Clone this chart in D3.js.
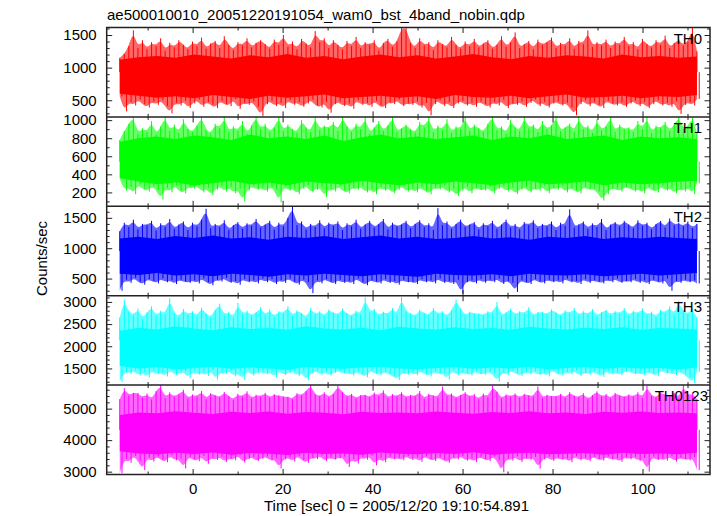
<!DOCTYPE html>
<html><head><meta charset="utf-8">
<script src="https://cdn.jsdelivr.net/npm/d3@7"></script>
<style>
html,body{margin:0;padding:0;background:#fff;}
text{font-family:"Liberation Sans",Arial,Helvetica,sans-serif;fill:#000;}
</style></head><body>
<svg id="chart" width="717" height="516"></svg>
<script>
// ---------- data ----------
const title = "ae500010010_20051220191054_wam0_bst_4band_nobin.qdp";
const xLabel = "Time [sec] 0 = 2005/12/20 19:10:54.891";
const yLabel = "Counts/sec";
const bands = ["TH0", "TH1", "TH2", "TH3", "TH0123"];
const colors = ["#ff0000", "#00ff00", "#0000ff", "#00ffff", "#ff00ff"];
const timeSpan = [-16.2, 112.1];          // first / last bin time (s)
const xDomain = [-19.1, 115];
const xMajorTicks = [0, 20, 40, 60, 80, 100];
const xMinorTicks = [-10, 10, 30, 50, 70, 90, 110];
const yDomains = [[245, 1615], [46, 1036], [218, 1690], [1124, 3140], [2910, 5747]];
const yMajorTicks = [[500, 1000, 1500], [200, 400, 600, 800, 1000], [500, 1000, 1500], [1500, 2000, 2500, 3000], [3000, 4000, 5000]];
const yMinorStep = [100, 100, 100, 100, 200];

// per 1-s bin maximum / minimum count rates (counts/sec)
const th0Hi = [
1150,1210,1330,1570,1300,1420,1280,1390,1330,1450,1260,1380,1310,1420,1350,1280,
1400,1330,1460,1290,1370,1410,1300,1480,1350,1270,1390,1340,1450,1310,1380,1420,
1360,1290,1430,1350,1500,1320,1400,1280,1440,1370,1310,1560,1390,1450,1300,1420,
1350,1280,1410,1330,1470,1300,1390,1350,1420,1260,1380,1440,1320,1400,1615,1610,
1380,1300,1450,1340,1390,1270,1420,1360,1310,1470,1350,1290,1400,1330,1440,1310,
1370,1420,1290,1350,1480,1320,1390,1540,1300,1360,1410,1280,1430,1350,1390,1460,
1300,1380,1340,1450,1290,1410,1360,1570,1320,1390,1340,1430,1300,1400,1350,1470,
1330,1390,1280,1440,1360,1310,1420,1350,1490,1300,1380,1430,1340,1400,1615,1250];
const th0Lo = [
560,330,470,420,510,440,390,480,430,500,410,300,460,420,490,380,
450,510,400,470,430,380,490,440,410,520,370,460,430,480,400,260,
440,490,410,460,380,500,430,470,400,450,510,420,390,470,310,440,
480,410,450,370,500,430,460,400,490,420,380,470,440,510,410,450,
430,480,390,460,270,440,500,410,470,380,450,490,420,460,400,480,
440,390,470,420,500,380,450,430,480,400,460,510,410,470,390,450,
480,420,460,390,270,440,500,410,470,430,380,490,450,420,470,400,
450,490,410,470,380,440,500,420,460,400,480,290,430,470,420,520];
const th1Hi = [
780,880,960,1040,850,910,870,990,840,930,1040,880,950,860,1010,900,
870,940,1040,890,850,960,910,1040,870,930,880,990,850,940,1040,900,
960,870,920,1040,880,950,900,860,1000,920,870,1040,890,940,910,980,
880,1040,930,870,960,900,1040,850,920,990,880,940,1040,870,910,950,
900,860,980,920,1040,870,940,890,1010,860,930,900,1040,880,950,910,
870,960,1040,890,930,850,1000,920,880,1040,910,950,870,990,900,940,
1040,880,920,960,870,1040,900,940,860,1010,890,930,1040,870,950,900,
920,870,990,900,1040,860,940,910,980,880,950,1040,900,930,1040,860];
const th1Lo = [
350,220,260,180,290,240,210,270,230,120,250,200,280,220,190,260,
240,280,200,250,170,230,270,210,260,190,240,100,220,270,230,250,
210,260,230,90,270,220,250,180,240,280,200,230,260,150,240,210,
270,220,190,250,230,270,200,240,180,260,220,250,190,230,270,210,
240,200,260,220,180,250,230,270,200,240,160,220,260,190,250,230,
220,260,190,240,270,210,250,180,230,260,200,240,220,270,190,250,
230,270,200,250,220,190,260,230,240,210,110,180,240,240,210,260,
250,210,240,190,260,230,200,270,220,250,190,240,210,260,180,300];
const th2Hi = [
1280,1420,1350,1470,1310,1400,1380,1450,1290,1410,1350,1480,1320,1390,1440,1300,
1420,1360,1470,1650,1330,1400,1350,1460,1300,1380,1430,1320,1410,1370,1480,1340,
1390,1450,1310,1420,1360,1500,1690,1380,1440,1310,1400,1350,1460,1330,1420,1370,
1440,1300,1410,1360,1470,1320,1390,1450,1340,1400,1480,1310,1420,1360,1390,1450,
1330,1400,1460,1350,1410,1300,1660,1380,1440,1320,1400,1470,1350,1390,1430,1310,
1410,1360,1450,1320,1390,1470,1340,1400,1310,1430,1380,1460,1330,1400,1360,1440,
1300,1420,1370,1640,1340,1390,1440,1320,1410,1350,1480,1300,1390,1430,1360,1450,
1390,1330,1460,1370,1420,1310,1400,1450,1340,1490,1380,1420,1360,1440,1330,1400];
const th2Lo = [
300,480,430,510,450,400,490,460,420,500,440,470,410,480,450,430,
470,420,500,440,390,480,450,510,430,460,400,490,440,470,420,500,
440,490,410,470,430,500,450,400,480,440,260,470,420,490,450,410,
480,430,460,410,500,440,390,470,450,420,490,430,460,400,480,440,
450,410,490,440,470,420,500,430,460,410,480,250,440,470,420,490,
430,480,440,500,410,460,430,280,470,440,410,490,450,420,480,440,
470,420,500,440,460,410,490,430,470,450,420,480,440,500,430,460,
440,490,430,470,410,480,450,420,500,300,460,430,480,440,470,420];
const th3Hi = [
2650,3050,2780,2700,2850,2620,2760,2900,2680,2800,2720,3080,2750,2660,2840,2710,
2790,2680,2870,2740,2650,2820,2960,2700,2780,2640,2980,2720,2800,2690,2760,2880,
2700,2830,2660,2790,2740,2900,2680,2810,2750,2640,2860,2720,2790,2680,2830,2760,
2710,2850,2740,2680,2800,2720,3100,2760,2840,2690,2780,2720,2860,2700,3110,2780,
2740,2680,2820,2750,2700,2860,2730,2790,2670,2810,3050,2850,2690,2780,2740,2740,
2700,2790,2740,3000,2680,2760,2850,2710,2790,2740,2880,2690,2770,2770,2720,2830,
2760,2690,2810,2740,2860,2700,2790,2720,2840,2680,2770,2820,2710,2790,2740,2860,
2690,2800,2740,2850,2710,2780,2660,2820,2750,2900,2700,3020,2790,2730,2840,2650];
const th3Lo = [
1200,1420,1380,1460,1340,1410,1300,1450,1370,1400,1320,1470,1350,1390,1430,1280,
1440,1360,1410,1330,1470,1250,1400,1380,1450,1320,1410,1240,1470,1340,1400,1430,
1370,1420,1300,1460,1350,1400,1440,1330,1410,1230,1380,1450,1360,1420,1340,1400,
1450,1380,1410,1340,1430,1370,1300,1460,1390,1350,1420,1380,1330,1240,1400,1360,
1410,1350,1440,1380,1320,1430,1370,1400,1250,1460,1350,1410,1390,1340,1440,1380,
1360,1430,1380,1200,1410,1350,1450,1390,1330,1420,1370,1440,1350,1400,1320,1460,
1390,1340,1420,1370,1450,1330,1400,1360,1430,1380,1310,1440,1370,1410,1350,1420,
1440,1370,1400,1350,1420,1380,1330,1460,1390,1410,1350,1430,1380,1300,1170,1420];
const th0123Hi = [
5300,5650,5420,5500,5500,5350,5480,5290,5560,5740,5330,5520,5380,5460,5600,5320,
5450,5380,5560,5300,5490,5420,5360,5530,5400,5280,5470,5380,5550,5320,5440,5390,
5500,5350,5460,5410,5380,5380,5300,5490,5420,5560,5750,5450,5390,5520,5360,5470,
5720,5530,5380,5470,5320,5430,5440,5360,5510,5400,5580,5330,5460,5390,5520,5350,
5440,5390,5560,5310,5470,5420,5360,5700,5400,5480,5340,5430,5520,5380,5460,5300,
5480,5360,5720,5540,5320,5450,5390,5480,5350,5470,5420,5380,5700,5330,5440,5400,
5390,5470,5340,5520,5410,5360,5490,5300,5430,5550,5380,5460,5330,5500,5420,5370,
5450,5380,5520,5340,5720,5410,5360,5510,5440,5390,5500,5330,5740,5420,5480,5300];
const th0123Lo = [
2950,3400,3280,3500,3350,3050,3450,3320,3480,3380,3300,3520,3360,3420,3100,3470,
3390,3330,3500,3250,3440,3370,3480,3310,3420,3360,3530,3290,3400,3460,3340,3410,
3480,3350,3420,3100,3390,3450,3320,3500,3370,3280,3430,3400,3510,3330,3450,3380,
3420,3480,3150,3400,3260,3460,3380,3510,3200,3430,3300,3470,3390,3440,3360,3500,
3370,3450,3310,3490,3400,3340,3460,3380,3280,3440,3390,3500,3350,3420,3310,3470,
3400,3330,3480,3360,2980,3420,3350,3490,3310,3440,3380,3460,3100,3390,3470,3340,
3450,3380,3420,3300,3490,3360,3440,3330,3470,3400,3350,3480,3380,3420,3310,3460,
3390,3470,3340,3430,3000,3480,3370,3410,3350,3490,3320,3440,3400,3360,3460,3050];

// dense core of each light curve (4-s bins): upper / lower edge of the solid band
const th0CoreHi = [1120,1160,1180,1150,1200,1170,1140,1190,1160,1210,1150,1180,1130,1170,1200,1160,1190,1140,1170,1210,1160,1130,1180,1150,1190,1170,1140,1200,1160,1180,1150,1170];
const th0CoreLo = [600,570,540,560,530,580,550,520,570,540,560,590,530,550,570,540,560,520,580,550,540,570,530,560,590,540,550,570,530,560,550,580];
const th1CoreHi = [760,800,820,790,830,810,780,840,800,820,790,830,770,810,840,800,820,790,810,830,780,820,800,840,790,810,830,780,820,800,810,790];
const th1CoreLo = [360,320,290,310,280,300,330,290,310,280,320,300,290,330,300,280,310,290,320,300,280,310,330,290,300,320,280,310,290,300,320,330];
const th2CoreHi = [1160,1190,1150,1200,1170,1210,1160,1180,1140,1190,1170,1200,1150,1180,1210,1160,1190,1150,1170,1200,1160,1180,1140,1190,1170,1200,1150,1180,1160,1190,1170,1150];
const th2CoreLo = [580,560,590,550,570,540,580,560,530,570,550,580,560,540,570,550,530,580,560,550,570,540,580,560,550,570,540,560,580,550,570,590];
const th3CoreHi = [2350,2420,2380,2450,2400,2360,2430,2390,2410,2370,2450,2400,2380,2420,2360,2440,2400,2380,2430,2390,2410,2370,2440,2400,2380,2420,2390,2430,2370,2410,2400,2380];
const th3CoreLo = [1560,1500,1530,1480,1510,1540,1490,1520,1500,1470,1530,1510,1490,1520,1540,1500,1480,1510,1530,1490,1520,1500,1540,1480,1510,1530,1490,1520,1500,1510,1480,1520];
const th0123CoreHi = [4800,4880,4850,4920,4870,4830,4900,4860,4910,4840,4890,4870,4820,4900,4860,4880,4850,4910,4870,4840,4890,4860,4920,4850,4880,4830,4900,4870,4910,4860,4880,4850];
const th0123CoreLo = [3650,3580,3550,3600,3560,3610,3540,3590,3570,3530,3600,3560,3580,3540,3610,3570,3550,3590,3560,3620,3540,3580,3600,3550,3570,3590,3540,3600,3560,3580,3550,3600];

const seriesHi = [th0Hi, th1Hi, th2Hi, th3Hi, th0123Hi];
const seriesLo = [th0Lo, th1Lo, th2Lo, th3Lo, th0123Lo];
const coreHi = [th0CoreHi, th1CoreHi, th2CoreHi, th3CoreHi, th0123CoreHi];
const coreLo = [th0CoreLo, th1CoreLo, th2CoreLo, th3CoreLo, th0123CoreLo];

// ---------- drawing ----------
const svg = d3.select("#chart");
const L = 106.7, R = 710, T = 27.5, B = 474.5;
const ph = (B - T) / bands.length;
const x = d3.scaleLinear().domain(xDomain).range([L, R]);
const defs = svg.append("defs");
const axisColor = "#222";
const major = 5.5, minor = 3;
const labelDx = [0, 0, 0, 0, 6];
const binned = (hi, lo) => {
  const n = hi.length, dt = (timeSpan[1] - timeSpan[0]) / (n - 1);
  return { dt, rows: hi.map((h, i) => ({ t: timeSpan[0] + i * dt, hi: h, lo: lo[i] })) };
};

bands.forEach((name, k) => {
  const top = T + k * ph, bot = top + ph;
  const y = d3.scaleLinear().domain(yDomains[k]).range([bot, top]);
  const { dt, rows } = binned(seriesHi[k], seriesLo[k]);
  const core = binned(coreHi[k], coreLo[k]).rows;
  const anchor = y(d3.mean(yDomains[k]));

  defs.append("clipPath").attr("id", "clip" + k)
    .append("rect").attr("x", L).attr("y", top).attr("width", R - L).attr("height", ph);
  const g = svg.append("g").attr("clip-path", `url(#clip${k})`);

  // haze of the spikes (smoothed envelope)
  g.append("path").datum(rows)
    .attr("d", d3.area().curve(d3.curveBasis).x(d => x(d.t)).y1(d => y(d.hi)).y0(d => y(d.lo)))
    .attr("fill", colors[k]).attr("fill-opacity", 0.6);
  // solid dense core
  g.append("path").datum(core)
    .attr("d", d3.area().x(d => x(d.t)).y1(d => y(d.hi)).y0(d => y(d.lo)))
    .attr("fill", colors[k]);
  // individual upward / downward spikes
  g.selectAll("line.up").data(rows).join("line").attr("class", "up")
    .attr("x1", d => x(d.t)).attr("x2", d => x(d.t))
    .attr("y1", anchor).attr("y2", d => y(d.hi))
    .attr("stroke", colors[k]).attr("stroke-width", 1);
  g.selectAll("line.down").data(rows).join("line").attr("class", "down")
    .attr("x1", d => x(d.t + dt / 2)).attr("x2", d => x(d.t + dt / 2))
    .attr("y1", anchor).attr("y2", d => y(d.lo))
    .attr("stroke", colors[k]).attr("stroke-width", 1);

  // axes (ticks point inward)
  const [d0, d1] = yDomains[k];
  const minors = d3.range(Math.ceil(d0 / yMinorStep[k]) * yMinorStep[k], d1, yMinorStep[k])
    .filter(v => !yMajorTicks[k].includes(v));
  const ax = (gen, tv, size, labels) => gen.tickValues(tv).tickSizeInner(-size).tickSizeOuter(0)
    .tickPadding(10).tickFormat(labels ? d3.format("d") : "");
  svg.append("g").attr("transform", `translate(${L},0)`).call(ax(d3.axisLeft(y), yMajorTicks[k], major, true));
  svg.append("g").attr("transform", `translate(${L},0)`).call(ax(d3.axisLeft(y), minors, minor, false));
  svg.append("g").attr("transform", `translate(${R},0)`).call(ax(d3.axisRight(y), yMajorTicks[k], major, false));
  svg.append("g").attr("transform", `translate(${R},0)`).call(ax(d3.axisRight(y), minors, minor, false));

  const last = k === bands.length - 1;
  svg.append("g").attr("transform", `translate(0,${top})`).call(ax(d3.axisTop(x), xMajorTicks, major, false));
  svg.append("g").attr("transform", `translate(0,${top})`).call(ax(d3.axisTop(x), xMinorTicks, minor, false));
  svg.append("g").attr("transform", `translate(0,${bot})`).call(ax(d3.axisBottom(x), xMajorTicks, major, last).tickPadding(8.5));
  svg.append("g").attr("transform", `translate(0,${bot})`).call(ax(d3.axisBottom(x), xMinorTicks, minor, false));

  svg.append("text").attr("x", 702 + labelDx[k]).attr("y", top + 16)
    .attr("text-anchor", "end").attr("font-size", 15).text(name);

  if (k > 0) svg.append("line").attr("x1", L).attr("x2", R).attr("y1", top).attr("y2", top)
    .attr("stroke", axisColor).attr("stroke-width", 1.5);
});

svg.selectAll(".domain").remove();
svg.selectAll(".tick line").attr("stroke", axisColor).attr("stroke-width", 1);
svg.selectAll(".tick text").attr("font-size", 15).attr("font-family", '"Liberation Sans",Arial,sans-serif').attr("fill", "#000");

svg.append("rect").attr("x", L).attr("y", T).attr("width", R - L).attr("height", B - T)
  .attr("fill", "none").attr("stroke", axisColor).attr("stroke-width", 1.5);

svg.append("text").attr("x", 107).attr("y", 19.5).attr("font-size", 15).text(title);
svg.append("text").attr("x", 396.5).attr("y", 511).attr("text-anchor", "middle").attr("font-size", 15).text(xLabel);
svg.append("text").attr("transform", "translate(46.5,258.5) rotate(-90)").attr("text-anchor", "middle")
  .attr("font-size", 15).text(yLabel);
</script>
</body></html>
